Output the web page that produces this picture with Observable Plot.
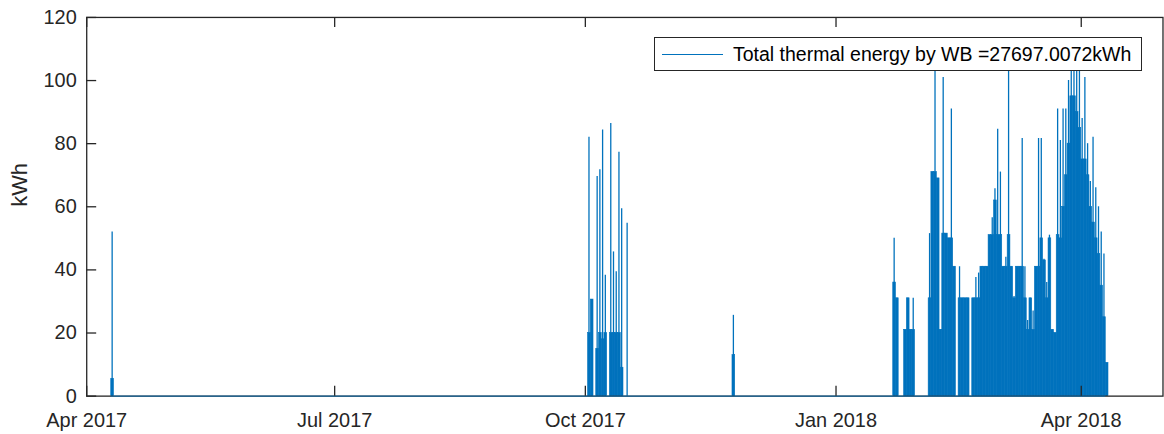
<!DOCTYPE html>
<html>
<head>
<meta charset="utf-8">
<script src="https://cdn.jsdelivr.net/npm/d3@7"></script>
<script src="https://cdn.jsdelivr.net/npm/@observablehq/plot@0.6"></script>
<style>
  html, body { margin: 0; padding: 0; background: #fff; overflow: hidden; width: 1164px; height: 434px; }
  #wrap { position: relative; width: 1164px; height: 434px; overflow: hidden; }
  #legend {
    position: absolute; left: 654px; top: 37px; width: 488px; height: 34px;
    box-sizing: border-box; border: 1px solid #262626; background: #fff;
    font-family: "Liberation Sans", Arial, sans-serif; font-size: 19.5px; color: #000;
  }
  #legend .sample { position: absolute; left: 7px; top: 16px; width: 61px; height: 1px; background: #0072BD; }
  #legend .lbl { position: absolute; left: 78px; top: 5px; white-space: nowrap; line-height: 22px; }
</style>
</head>
<body>
<div id="wrap">
  <div id="chart"></div>
  <div id="legend"><div class="sample"></div><div class="lbl" id="legendText"></div></div>
</div>
<script>
// ---- data: per active day, the bulk level and the peak spike (kWh) ----
const legendLabel = "Total thermal energy by WB =27697.0072kWh";
const yLabel = "kWh";
const dataStart = "2017-04-10";
const dataEnd = "2018-04-10";

const springDates = ["2017-04-10"];
const springPeaks = [52];
const springBases = [5.5];

const autumnDates = ["2017-10-02","2017-10-03","2017-10-05","2017-10-06","2017-10-07","2017-10-08",
  "2017-10-10","2017-10-11","2017-10-12","2017-10-13","2017-10-14","2017-10-16"];
const autumnPeaks = [82, 30.6, 69.6, 71.7, 84.3, 38.3, 86.4, 45.7, 39.4, 77.3, 59.4, 54.8];
const autumnBases = [20, 30.6, 15, 20, 18, 20, 20, 20, 20, 20, 9, 0];

const novDates = ["2017-11-24"];
const novPeaks = [25.6];
const novBases = [13];

const winterDates = [
  "2018-01-22","2018-01-23","2018-01-26","2018-01-27","2018-01-28","2018-01-29",
  "2018-02-04","2018-02-05","2018-02-06","2018-02-07","2018-02-08","2018-02-09","2018-02-10",
  "2018-02-11","2018-02-12","2018-02-13","2018-02-15","2018-02-16","2018-02-17","2018-02-18",
  "2018-02-20","2018-02-21","2018-02-22","2018-02-23","2018-02-24","2018-02-25","2018-02-26",
  "2018-02-27","2018-02-28","2018-03-01","2018-03-02","2018-03-03","2018-03-04","2018-03-05",
  "2018-03-06","2018-03-07","2018-03-08","2018-03-09","2018-03-10","2018-03-11","2018-03-12",
  "2018-03-13","2018-03-14","2018-03-15","2018-03-16","2018-03-17","2018-03-18","2018-03-19",
  "2018-03-20","2018-03-21","2018-03-22","2018-03-23","2018-03-24","2018-03-25","2018-03-26",
  "2018-03-27","2018-03-28","2018-03-29","2018-03-30","2018-03-31","2018-04-01","2018-04-02",
  "2018-04-03","2018-04-04","2018-04-05","2018-04-06","2018-04-07","2018-04-08","2018-04-09",
  "2018-04-10"];
const winterPeaks = [
  50, 31, 21, 31, 21, 31,
  51.5, 71, 108, 69, 21, 101, 51.5,
  50, 91, 41, 41, 31, 31, 31,
  31, 37.6, 39, 41, 41, 41, 51,
  56.5, 65.7, 84.6, 71, 41, 44, 108,
  41, 31.6, 41, 41, 81.6, 41, 24,
  31, 27, 41, 81.6, 81.6, 43.4, 36,
  51, 21, 20, 91, 81, 91, 91,
  100, 108, 108, 104, 108, 88, 101,
  80, 68, 82, 66, 60, 52, 45,
  10.5];
const winterBases = [
  36, 31, 21, 31, 21, 21,
  31, 71, 71, 69, 21, 51.5, 51.5,
  50, 50, 41, 31, 31, 31, 31,
  31, 31, 31, 41, 41, 41, 51,
  51, 62, 51, 51, 41, 41, 51,
  41, 31, 41, 41, 41, 31, 21,
  31, 21, 41, 41, 50, 43, 31,
  50, 21, 20, 51, 50, 60, 70,
  80, 95, 95, 90, 85, 75, 75,
  70, 60, 55, 50, 45, 35, 25,
  10.5];

const xTickDates = ["2017-04-01","2017-07-01","2017-10-01","2018-01-01","2018-04-01"];
const yTicks = [0, 20, 40, 60, 80, 100, 120];
const xDomain = ["2017-04-01", "2018-05-01"];

// ---- build table ----
const allDates = [...springDates, ...autumnDates, ...novDates, ...winterDates];
const allPeaks = [...springPeaks, ...autumnPeaks, ...novPeaks, ...winterPeaks];
const allBases = [...springBases, ...autumnBases, ...novBases, ...winterBases];
const series = allDates.map((d, i) => ({
  date: new Date(d),
  mid: d3.utcHour.offset(new Date(d), 8),
  peak: allPeaks[i],
  base: allBases[i]
}));
const xTicks = xTickDates.map(d => new Date(d));

const blue = "#0072BD";
const ink = "#262626";
const W = 1168, H = 434, mL = 86.5, mR = 1.5, mT = 17, mB = 37;
const plotW = W - mL - mR, plotH = H - mT - mB;

const chart = Plot.plot({
  width: W, height: H,
  marginLeft: mL, marginRight: mR, marginTop: mT, marginBottom: mB,
  style: {fontFamily: "'Liberation Sans', Arial, sans-serif", fontSize: "20px", color: ink, background: "white", overflow: "visible"},
  x: {type: "utc", domain: xDomain.map(d => new Date(d))},
  y: {domain: [0, 120]},
  marks: [
    Plot.rectY(series.filter(d => d.base > 0), {x: "date", y: "base", interval: d3.utcDay, fill: blue, stroke: blue, strokeWidth: 0.6, inset: 0}),
    Plot.ruleX(series, {x: "mid", y1: 0, y2: "peak", stroke: blue, strokeWidth: 1.3}),
    Plot.frame({stroke: ink, strokeWidth: 1.3}),
    Plot.ruleY([0], {x1: new Date(dataStart), x2: new Date(dataEnd), stroke: blue, strokeWidth: 1.3, strokeOpacity: 0.7}),
    Plot.tickX(xTicks, {x: d => d, stroke: ink, strokeWidth: 1.3, insetTop: plotH - 10}),
    Plot.tickX(xTicks, {x: d => d, stroke: ink, strokeWidth: 1.3, insetBottom: plotH - 10}),
    Plot.tickY(yTicks, {y: d => d, stroke: ink, strokeWidth: 1.3, insetRight: plotW - 10}),
    Plot.axisX({ticks: xTicks, tickSize: 0, tickPadding: 17, tickFormat: d3.utcFormat("%b %Y"), fontSize: 20, label: null}),
    Plot.axisY({ticks: yTicks, tickSize: 0, tickPadding: 10, fontSize: 20, label: null}),
    Plot.text([yLabel], {text: d => d, frameAnchor: "left", dx: -66.5, rotate: -90, fontSize: 22, fill: ink})
  ]
});
document.getElementById("chart").appendChild(chart);
document.getElementById("legendText").textContent = legendLabel;
</script>
</body>
</html>
